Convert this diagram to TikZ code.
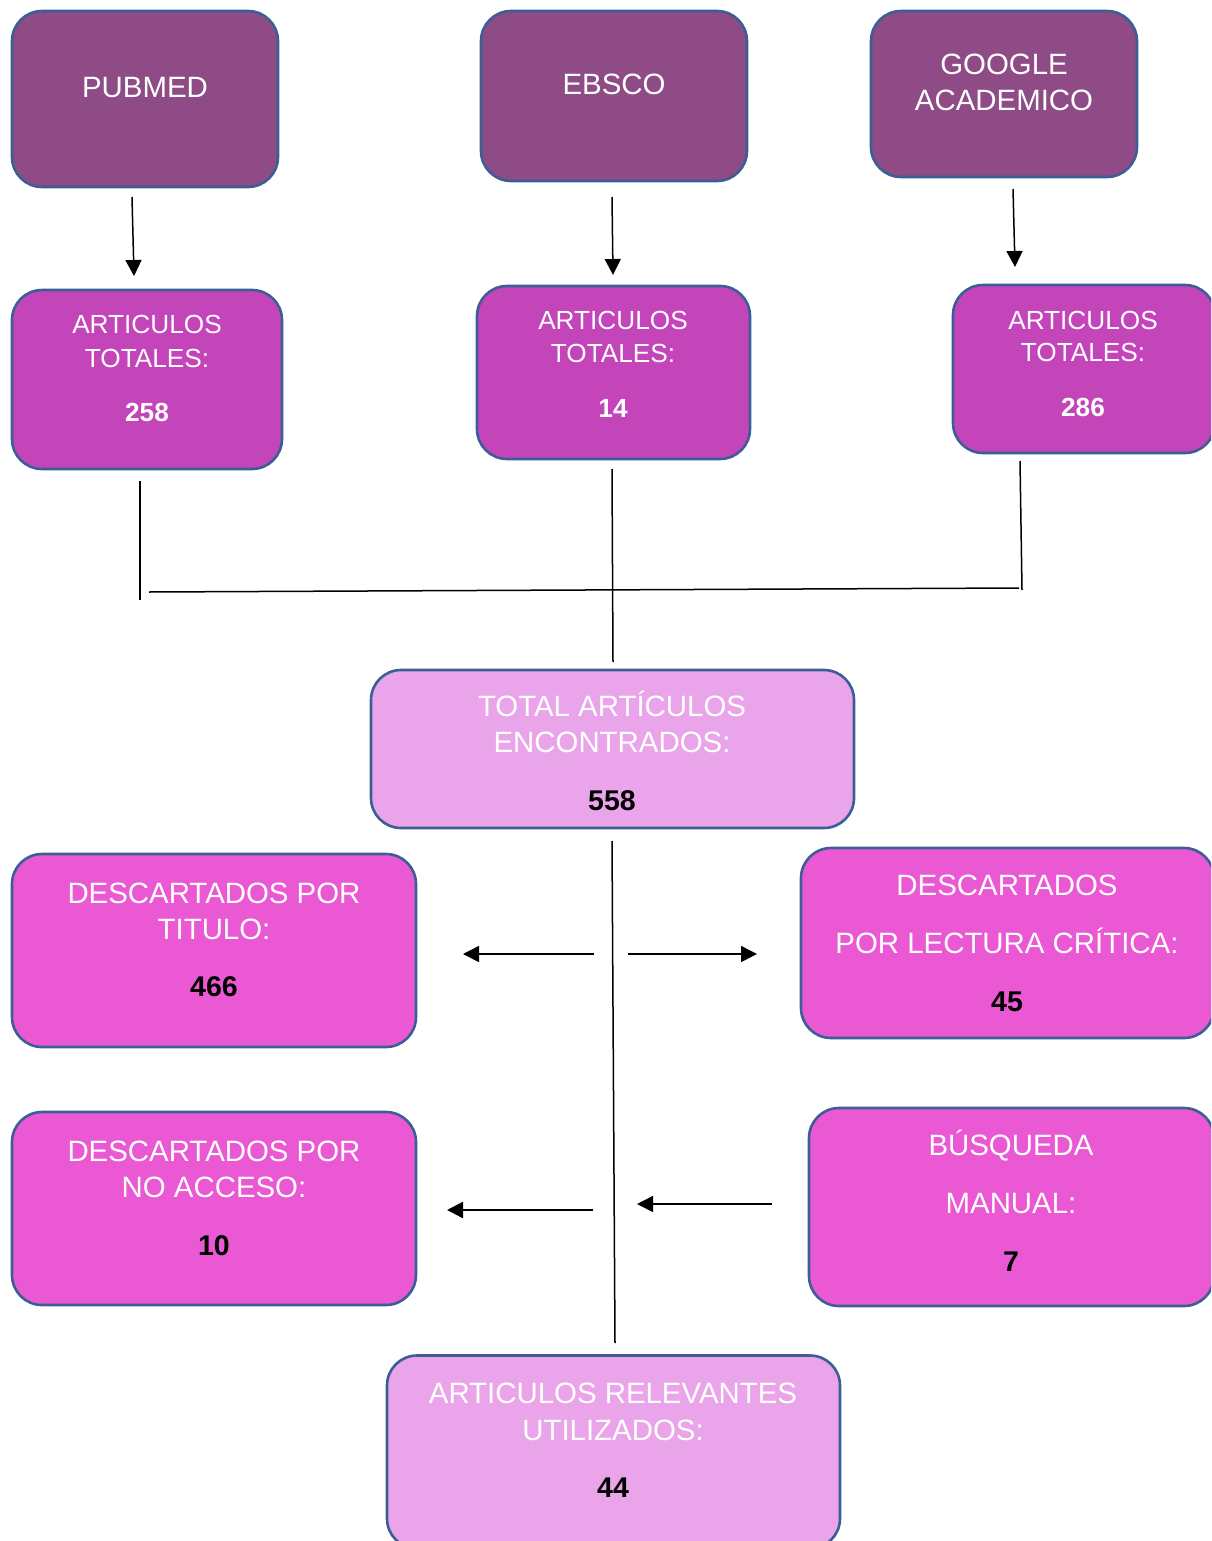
\documentclass[tikz,border=0pt]{standalone}
\usepackage{fontspec}
\setmainfont{Liberation Sans}
\usetikzlibrary{arrows.meta}
\definecolor{srcfill}{HTML}{8E4B86}
\definecolor{artfill}{HTML}{C444BA}
\definecolor{lightfill}{HTML}{EAA4EA}
\definecolor{descfill}{HTML}{EA58D4}
\definecolor{bordercol}{HTML}{3B5E94}
\tikzset{
  box/.style={draw=bordercol, line width=2.6pt, rounded corners=30pt, rectangle, inner sep=0pt},
  txt/.style={anchor=base, inner sep=0pt, font=\fontsize{29.4}{34}\selectfont},
  stxt/.style={anchor=base, inner sep=0pt, font=\fontsize{26.2}{30}\selectfont},
  wtxt/.style={txt, text=white},
  wstxt/.style={stxt, text=white},
  num/.style={anchor=base, inner sep=0pt, font=\fontsize{28.5}{32}\selectfont\bfseries},
  snum/.style={anchor=base, inner sep=0pt, text=white, font=\fontsize{26.2}{30}\selectfont\bfseries},
  conn/.style={line width=1.5pt, black},
  arr/.style={line width=1.5pt, black, -{Triangle[length=16pt,width=16pt]}}
}
\begin{document}
\begin{tikzpicture}[x=1pt,y=-1pt]
\useasboundingbox (0,0) rectangle (1211,1541);
\clip (0,0) rectangle (1211,1541);
% source boxes
\node[box, fill=srcfill, minimum width=266pt, minimum height=176pt] (pubmed) at (145,99) {};
\node[box, fill=srcfill, minimum width=266pt, minimum height=170pt] (ebsco) at (614,96) {};
\node[box, fill=srcfill, minimum width=266pt, minimum height=166pt] (google) at (1004,94) {};
\node[wtxt] (pubmedT) at (145,98) {PUBMED};
\node[wtxt] (ebscoT) at (614,95) {EBSCO};
\node[wtxt] (googleT1) at (1004,75) {GOOGLE};
\node[wtxt] (googleT2) at (1004,111) {ACADEMICO};
% totals per source
\node[box, fill=artfill, minimum width=270pt, minimum height=179pt] (art1) at (147,379.5) {};
\node[box, fill=artfill, minimum width=273pt, minimum height=173pt] (art2) at (613.5,372.5) {};
\node[box, fill=artfill, minimum width=262pt, minimum height=168pt] (art3) at (1084,369) {};
\node[wstxt] (art1a) at (147,333) {ARTICULOS};
\node[wstxt] (art1b) at (147,367) {TOTALES:};
\node[snum] (art1n) at (147,421) {258};
\node[wstxt] (art2a) at (613,329) {ARTICULOS};
\node[wstxt] (art2b) at (613,362) {TOTALES:};
\node[snum] (art2n) at (613,417) {14};
\node[wstxt] (art3a) at (1083,329) {ARTICULOS};
\node[wstxt] (art3b) at (1083,361) {TOTALES:};
\node[snum] (art3n) at (1083,416) {286};
% total
\node[box, fill=lightfill, minimum width=483pt, minimum height=158pt] (total) at (612.5,749) {};
\node[wtxt] (totalA) at (612,716) {TOTAL ARTÍCULOS};
\node[wtxt] (totalB) at (612,752) {ENCONTRADOS:};
\node[num] (totalN) at (612,810) {558};
% discarded / added
\node[box, fill=descfill, minimum width=404pt, minimum height=193pt] (desc1) at (214,950.5) {};
\node[wtxt] (desc1a) at (214,903) {DESCARTADOS POR};
\node[wtxt] (desc1b) at (214,939) {TITULO:};
\node[num] (desc1n) at (214,996) {466};
\node[box, fill=descfill, minimum width=413pt, minimum height=190pt] (desc2) at (1007.5,943) {};
\node[wtxt] (desc2a) at (1007,895) {DESCARTADOS};
\node[wtxt] (desc2b) at (1007,953) {POR LECTURA CRÍTICA:};
\node[num] (desc2n) at (1007,1011) {45};
\node[box, fill=descfill, minimum width=404pt, minimum height=193pt] (desc3) at (214,1208.5) {};
\node[wtxt] (desc3a) at (214,1161) {DESCARTADOS POR};
\node[wtxt] (desc3b) at (214,1197) {NO ACCESO:};
\node[num] (desc3n) at (214,1255) {10};
\node[box, fill=descfill, minimum width=405pt, minimum height=198pt] (busq) at (1011.5,1207) {};
\node[wtxt] (busqa) at (1011,1155) {BÚSQUEDA};
\node[wtxt] (busqb) at (1011,1213) {MANUAL:};
\node[num] (busqn) at (1011,1271) {7};
% final
\node[box, fill=lightfill, minimum width=453pt, minimum height=193pt] (relev) at (613.5,1452) {};
\node[wtxt] (relevA) at (613,1403) {ARTICULOS RELEVANTES};
\node[wtxt] (relevB) at (613,1440) {UTILIZADOS:};
\node[num] (relevN) at (613,1497) {44};
% connector coordinates
\coordinate (p1) at (132,197); \coordinate (p2) at (134,276);
\coordinate (e1) at (612,197); \coordinate (e2) at (613,275);
\coordinate (g1) at (1013,189); \coordinate (g2) at (1015,267);
\coordinate (l1) at (140,481); \coordinate (l2) at (140,600);
\coordinate (h1) at (149,592); \coordinate (h2) at (1019,588);
\coordinate (m1) at (612,469); \coordinate (m2) at (613,662);
\coordinate (r1) at (1020,461); \coordinate (r2) at (1022,590);
\coordinate (c1) at (612,841); \coordinate (c2) at (615,1343);
\coordinate (a1s) at (594,954); \coordinate (a1e) at (463,954);
\coordinate (a2s) at (628,954); \coordinate (a2e) at (757,954);
\coordinate (a3s) at (593,1210); \coordinate (a3e) at (447,1210);
\coordinate (a4s) at (772,1204); \coordinate (a4e) at (637,1204);
% connectors
\draw[arr] (p1) -- (p2);
\draw[arr] (e1) -- (e2);
\draw[arr] (g1) -- (g2);
\draw[conn] (l1) -- (l2);
\draw[conn] (h1) -- (h2);
\draw[conn] (m1) -- (m2);
\draw[conn] (r1) -- (r2);
\draw[conn] (c1) -- (c2);
\draw[arr] (a1s) -- (a1e);
\draw[arr] (a2s) -- (a2e);
\draw[arr, line width=2.4pt] (a3s) -- (a3e);
\draw[arr] (a4s) -- (a4e);
\end{tikzpicture}
\end{document}
